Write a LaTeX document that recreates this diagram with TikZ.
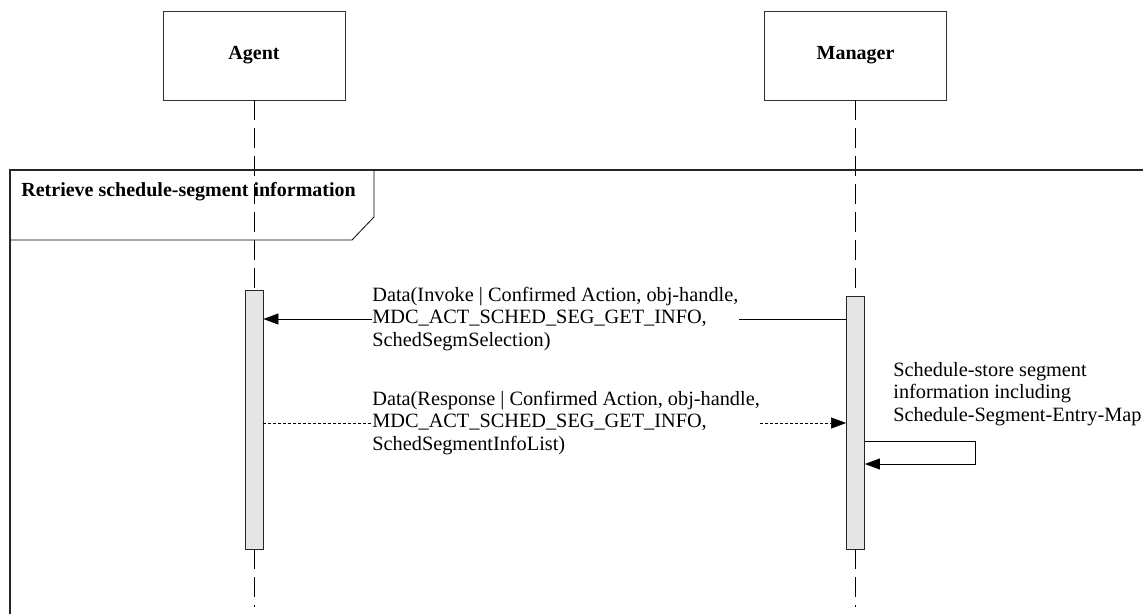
\documentclass[tikz,border=0pt]{standalone}
\usepackage{fontspec}
\setmainfont{Liberation Serif}
\usetikzlibrary{arrows.meta}

\begin{document}
\begin{tikzpicture}[x=1pt, y=-1pt, line width=0.8pt,
    actor/.style={draw=black!80, minimum width=182pt, minimum height=89pt, font=\fontsize{20}{23}\selectfont\bfseries},
    actbar/.style={draw=black!85, fill=black!10, minimum width=18pt, inner sep=0pt},
    lifeline/.style={dash pattern=on 20pt off 8pt},
    msgtext/.style={anchor=west, align=left, inner sep=0pt, font=\fontsize{20.3}{22.5}\selectfont},
    tip/.style={-{Triangle[length=15pt, width=11pt]}}]
    \useasboundingbox (0,0) rectangle (1143,614);
    % participants
    \node[actor] (agent) at (254,55.5) {Agent};
    \node[actor] (manager) at (855.5,55.5) {Manager};
    \node[actbar, minimum height=259pt] (agentAct) at (254,419.5) {};
    \node[actbar, minimum height=253pt] (mgrAct) at (855.5,422.5) {};
    \coordinate (agentEnd) at (254,607); \coordinate (mgrEnd) at (855.5,607);
    \draw[lifeline] (agent.south) -- (agentAct.north) (agentAct.south) -- (agentEnd);
    \draw[lifeline] (manager.south) -- (mgrAct.north) (mgrAct.south) -- (mgrEnd);
    % frame
    \draw[line width=1.3pt, black!85] (10,614) -- (10,170) -- (1143,170);
    \draw (10,240) -- (352,240) -- (374,217) -- (374,170);
    \node[anchor=west, inner sep=0pt, font=\fontsize{20}{23}\selectfont\bfseries] (frameTitle) at (21,192) {Retrieve schedule-segment information};
    % messages
    \node[msgtext] (invokeTxt) at (372,319) {Data(Invoke | Confirmed Action, obj-handle,\\MDC\_ACT\_SCHED\_SEG\_GET\_INFO,\\SchedSegmSelection)};
    \draw (mgrAct.west |- invokeTxt) -- (invokeTxt.east);
    \draw[tip] (invokeTxt.west) -- (agentAct.east |- invokeTxt);
    \node[msgtext] (respTxt) at (372,423) {Data(Response | Confirmed Action, obj-handle,\\MDC\_ACT\_SCHED\_SEG\_GET\_INFO,\\SchedSegmentInfoList)};
    \draw[dash pattern=on 3pt off 2pt, line width=0.6pt] (agentAct.east |- respTxt) -- (respTxt.west);
    \draw[dash pattern=on 3pt off 2pt, line width=0.6pt, tip] (respTxt.east) -- (mgrAct.west |- respTxt);
    % self call
    \node[msgtext] (storeTxt) at (893,394) {Schedule-store segment\\information including\\Schedule-Segment-Entry-Map};
    \coordinate (loopTop) at (975,441); \coordinate (loopBot) at (975,464);
    \draw[tip] (mgrAct.east |- loopTop) -- (loopTop) -- (loopBot) -- (mgrAct.east |- loopBot);
\end{tikzpicture}
\end{document}
